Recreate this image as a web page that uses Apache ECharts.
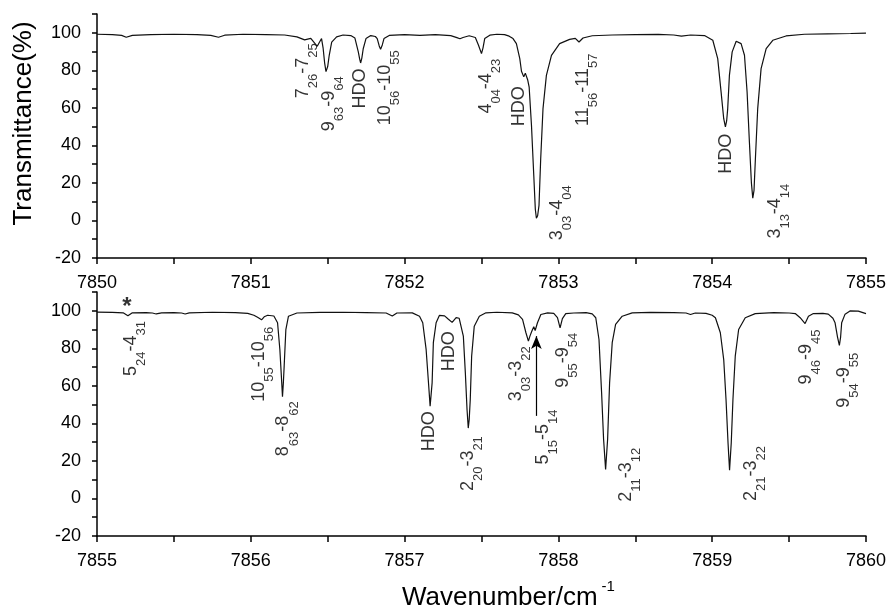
<!DOCTYPE html>
<html>
<head>
<meta charset="utf-8">
<script src="https://cdn.jsdelivr.net/npm/echarts@6/dist/echarts.min.js"></script>
<style>
html, body { margin: 0; padding: 0; background: #fff; }
#chart { width: 889px; height: 609px; }
</style>
</head>
<body>
<div id="chart"></div>
<script>
// spectrum points [wavenumber, transmittance %]
var upperSpectrum = [
  [7850.00, 99.2], [7850.10, 99.0], [7850.16, 98.6], [7850.19, 97.6], [7850.23, 98.6],
  [7850.35, 99.0], [7850.50, 99.2], [7850.65, 99.0], [7850.74, 98.6], [7850.79, 97.6],
  [7850.83, 98.7], [7850.95, 99.2], [7851.10, 99.0], [7851.22, 98.8], [7851.30, 97.8],
  [7851.35, 96.2], [7851.39, 97.0], [7851.41, 95.0], [7851.432, 92.8], [7851.45, 95.5],
  [7851.46, 96.9], [7851.47, 92.0], [7851.48, 84.0], [7851.489, 79.3], [7851.50, 82.0],
  [7851.51, 88.0], [7851.526, 95.0], [7851.558, 97.8], [7851.60, 98.8], [7851.65, 98.5],
  [7851.677, 97.2], [7851.699, 89.8], [7851.708, 86.0], [7851.714, 83.9], [7851.722, 86.5],
  [7851.731, 91.5], [7851.749, 96.9], [7851.78, 98.5], [7851.81, 98.0], [7851.822, 96.9],
  [7851.835, 93.0], [7851.844, 91.2], [7851.855, 93.5], [7851.866, 96.9], [7851.90, 98.6],
  [7852.00, 99.0], [7852.10, 98.6], [7852.20, 99.0], [7852.30, 98.5], [7852.34, 97.4],
  [7852.36, 96.8], [7852.38, 97.5], [7852.42, 98.4], [7852.46, 97.5], [7852.48, 93.5],
  [7852.50, 88.9], [7852.51, 92.0], [7852.521, 96.9], [7852.554, 98.7], [7852.60, 99.2],
  [7852.65, 99.0], [7852.68, 98.2], [7852.705, 96.9], [7852.727, 94.2], [7852.749, 86.2],
  [7852.76, 79.5], [7852.775, 76.5], [7852.785, 78.5], [7852.80, 75.0], [7852.81, 71.0],
  [7852.825, 50.7], [7852.84, 24.0], [7852.85, 6.0], [7852.857, 1.2], [7852.865, 2.5],
  [7852.874, 8.0], [7852.885, 32.9], [7852.90, 59.6], [7852.922, 77.3], [7852.955, 88.0],
  [7853.008, 94.2], [7853.073, 96.5], [7853.11, 97.0], [7853.134, 95.1], [7853.16, 97.2],
  [7853.22, 98.4], [7853.35, 98.8], [7853.50, 99.0], [7853.65, 99.1], [7853.75, 98.8],
  [7853.80, 98.2], [7853.86, 98.8], [7853.95, 98.5], [7854.004, 96.0], [7854.036, 86.2],
  [7854.058, 68.4], [7854.075, 54.2], [7854.086, 49.8], [7854.094, 53.0], [7854.101, 59.6],
  [7854.112, 77.3], [7854.13, 89.8], [7854.156, 95.5], [7854.188, 94.2], [7854.21, 88.0],
  [7854.227, 68.4], [7854.242, 41.8], [7854.255, 20.0], [7854.264, 11.9], [7854.272, 16.0],
  [7854.281, 32.9], [7854.296, 59.6], [7854.318, 80.9], [7854.351, 91.5], [7854.394, 96.0],
  [7854.48, 98.3], [7854.60, 99.2], [7854.75, 99.4], [7854.90, 99.6], [7855.00, 99.8]
]
var lowerSpectrum = [
  [7855.00, 99.3], [7855.10, 99.1], [7855.17, 98.9], [7855.201, 97.3], [7855.23, 98.9],
  [7855.32, 99.0], [7855.36, 98.8], [7855.385, 98.3], [7855.42, 98.9], [7855.50, 99.0],
  [7855.55, 98.8], [7855.573, 98.3], [7855.60, 98.9], [7855.75, 99.2], [7855.90, 99.0],
  [7855.98, 98.6], [7856.02, 97.6], [7856.044, 96.5], [7856.07, 95.2], [7856.087, 96.8],
  [7856.11, 97.6], [7856.15, 97.2], [7856.174, 93.6], [7856.189, 79.4], [7856.20, 63.4],
  [7856.206, 54.2], [7856.212, 62.0], [7856.217, 70.5], [7856.228, 90.0], [7856.245, 97.1],
  [7856.30, 98.8], [7856.45, 99.1], [7856.60, 99.2], [7856.75, 99.0], [7856.88, 98.8],
  [7856.92, 97.2], [7856.95, 98.8], [7857.05, 98.9], [7857.097, 97.1], [7857.118, 93.6],
  [7857.14, 79.4], [7857.157, 59.8], [7857.166, 49.2], [7857.179, 61.6], [7857.187, 83.0],
  [7857.205, 93.6], [7857.226, 97.5], [7857.26, 97.3], [7857.285, 95.5], [7857.309, 93.8],
  [7857.335, 96.3], [7857.355, 96.0], [7857.367, 95.0], [7857.382, 86.5], [7857.395, 67.0],
  [7857.406, 47.4], [7857.414, 37.5], [7857.42, 42.0], [7857.427, 52.7], [7857.436, 75.8],
  [7857.453, 91.8], [7857.486, 97.1], [7857.529, 98.9], [7857.60, 99.2], [7857.70, 98.9],
  [7857.74, 97.8], [7857.767, 95.4], [7857.789, 88.3], [7857.805, 83.8], [7857.815, 86.5],
  [7857.827, 89.1], [7857.84, 91.5], [7857.849, 89.5], [7857.864, 93.6], [7857.886, 98.0],
  [7857.93, 98.9], [7857.97, 98.6], [7857.994, 96.3], [7858.011, 90.9], [7858.026, 95.8],
  [7858.048, 98.5], [7858.10, 98.8], [7858.18, 99.0], [7858.22, 98.3], [7858.243, 96.3],
  [7858.264, 84.7], [7858.281, 56.3], [7858.294, 31.4], [7858.307, 15.5], [7858.32, 31.4],
  [7858.333, 61.6], [7858.35, 83.0], [7858.372, 92.7], [7858.415, 97.1], [7858.48, 98.9],
  [7858.60, 99.1], [7858.75, 99.0], [7858.83, 98.8], [7858.859, 98.0], [7858.89, 98.8],
  [7858.96, 98.6], [7859.00, 97.6], [7859.021, 96.3], [7859.053, 88.3], [7859.075, 74.0],
  [7859.09, 52.7], [7859.103, 29.7], [7859.113, 15.1], [7859.124, 29.7], [7859.135, 52.7],
  [7859.15, 75.8], [7859.172, 90.0], [7859.215, 96.3], [7859.28, 98.5], [7859.40, 99.0],
  [7859.50, 98.8], [7859.54, 98.5], [7859.572, 96.3], [7859.604, 93.2], [7859.626, 97.1],
  [7859.658, 98.5], [7859.72, 98.6], [7859.755, 98.2], [7859.785, 96.0], [7859.799, 93.6],
  [7859.815, 86.0], [7859.827, 81.5], [7859.835, 86.0], [7859.842, 93.6], [7859.864, 98.2],
  [7859.896, 99.9], [7859.95, 99.8], [7860.00, 98.5]
]

// line assignments: [text, wavenumber, top of text in %]; _nn = subscript
var upperLabels = [
  ['7_26-7_25', 7851.344, 94.4],
  ['9_63-9_64', 7851.515, 76.8],
  ['HDO', 7851.71, 80.9],
  ['10_56-10_55', 7851.878, 90.7],
  ['4_04-4_23', 7852.535, 86.2],
  ['HDO', 7852.742, 71.5],
  ['11_56-11_57', 7853.164, 88.9],
  ['3_03-4_04', 7852.999, 18.7],
  ['HDO', 7854.093, 46.2],
  ['3_13-4_14', 7854.414, 19.6]
]
var lowerLabels = [
  ['5_24-4_31', 7855.227, 94.5],
  ['10_55-10_56', 7856.059, 91.5],
  ['8_63-8_62', 7856.219, 51.8],
  ['HDO', 7857.16, 46.5],
  ['HDO', 7857.291, 89.1],
  ['2_20-3_21', 7857.421, 33.2],
  ['3_03-3_22', 7857.729, 81.1],
  ['5_15-5_14', 7857.907, 47.4],
  ['9_55-9_54', 7858.037, 88.3],
  ['2_11-3_12', 7858.448, 27.0],
  ['2_21-3_22', 7859.258, 27.9],
  ['9_46-9_45', 7859.615, 90.0],
  ['9_54-9_55', 7859.864, 77.6]
]
var starMark = [7855.195, 104.3]
var arrowLine = [[7857.857, 44], [7857.857, 86.5]]

var upperRange = [7850, 7855]
var lowerRange = [7855, 7860]
var yRange = [-20, 110]

var FONT = 'Liberation Sans, Arial, sans-serif'

// '7_26-7_25' -> rich text with subscripts
function toRich (t) {
  if (t.indexOf('_') < 0) return '{h|' + t + '}'
  return t.split(/(_\d+)/).filter(function (p) { return p !== '' }).map(function (p) {
    return p[0] === '_' ? '{s|' + p.slice(1) + '}' : '{m|' + p + '}'
  }).join('')
}

var labelRich = {
  m: { fontSize: 18, fontFamily: FONT, color: '#000', lineHeight: 20, verticalAlign: 'top' },
  s: { fontSize: 13, fontFamily: FONT, color: '#000', lineHeight: 13, verticalAlign: 'top', padding: [13, 0, 0, 0] },
  h: { fontSize: 18, fontFamily: FONT, color: '#000', lineHeight: 18 }
}

function xAxisFor (range, idx) {
  return {
    type: 'value', gridIndex: idx, min: range[0], max: range[1], interval: 0.5,
    axisLine: { show: true, onZero: false, lineStyle: { color: '#000', width: 1.5 } },
    axisTick: { show: true, length: 6, lineStyle: { color: '#000', width: 1.5 } },
    axisLabel: {
      color: '#000', fontSize: 18, fontFamily: FONT, margin: 16,
      formatter: function (v) { return v % 1 === 0 ? String(v) : '' }
    },
    splitLine: { show: false }
  }
}
function yAxisFor (idx) {
  return {
    type: 'value', gridIndex: idx, min: yRange[0], max: yRange[1], interval: 10,
    axisLine: { show: true, lineStyle: { color: '#000', width: 1.5 } },
    axisTick: { show: true, length: 5, lineStyle: { color: '#000', width: 1.5 } },
    axisLabel: {
      color: '#000', fontSize: 18, fontFamily: FONT, margin: 16,
      formatter: function (v) { return (v % 20 === 0 && v <= 100) ? String(v) : '' }
    },
    splitLine: { show: false }
  }
}
function spectrumSeries (data, idx) {
  return {
    type: 'line', xAxisIndex: idx, yAxisIndex: idx, data: data,
    showSymbol: false, symbol: 'none', silent: true,
    lineStyle: { color: '#111', width: 1.2 }
  }
}
function labelSeries (labels, idx) {
  return {
    type: 'scatter', xAxisIndex: idx, yAxisIndex: idx, symbolSize: 0, silent: true,
    data: labels.map(function (l) { return { name: l[0], value: [l[1], l[2]] } }),
    label: {
      show: true, position: 'inside', rotate: 90, align: 'right', verticalAlign: 'middle',
      formatter: function (p) { return toRich(p.name) },
      rich: labelRich
    }
  }
}

var chart = echarts.init(document.getElementById('chart'))
var lower = labelSeries(lowerLabels, 1)
lower.markLine = {
  silent: true, animation: false, symbol: ['none', 'arrow'], symbolSize: [8, 13],
  label: { show: false },
  lineStyle: { color: '#000', width: 1.2, type: 'solid' },
  data: [[{ coord: arrowLine[0] }, { coord: arrowLine[1] }]]
}

chart.setOption({
  animation: false,
  backgroundColor: '#fff',
  grid: [
    { left: 97, right: 22, top: 14, height: 244 },
    { left: 97, right: 21, top: 292, height: 244 }
  ],
  xAxis: [xAxisFor(upperRange, 0), xAxisFor(lowerRange, 1)],
  yAxis: [yAxisFor(0), yAxisFor(1)],
  graphic: [
    {
      type: 'text', x: 24, y: 123.5, rotation: Math.PI / 2,
      style: { text: 'Transmittance(%)', fontSize: 26, fontFamily: FONT, fill: '#000', align: 'center', verticalAlign: 'middle' }
    },
    {
      type: 'text', x: 402, y: 593,
      style: {
        text: '{a|Wavenumber/cm}{b|-1}', align: 'left', verticalAlign: 'middle',
        rich: {
          a: { fontSize: 26, fontFamily: FONT, color: '#000', lineHeight: 36, verticalAlign: 'bottom' },
          b: { fontSize: 15, fontFamily: FONT, color: '#000', lineHeight: 15, verticalAlign: 'top', padding: [4, 0, 0, 4] }
        }
      }
    }
  ],
  series: [
    spectrumSeries(upperSpectrum, 0),
    spectrumSeries(lowerSpectrum, 1),
    labelSeries(upperLabels, 0),
    lower,
    {
      type: 'scatter', xAxisIndex: 1, yAxisIndex: 1, symbolSize: 0, silent: true,
      data: [starMark],
      label: { show: true, position: 'inside', formatter: '*', fontSize: 24, fontWeight: 'bold', fontFamily: FONT, color: '#000', offset: [0, 5] }
    }
  ]
})
</script>
</body>
</html>
